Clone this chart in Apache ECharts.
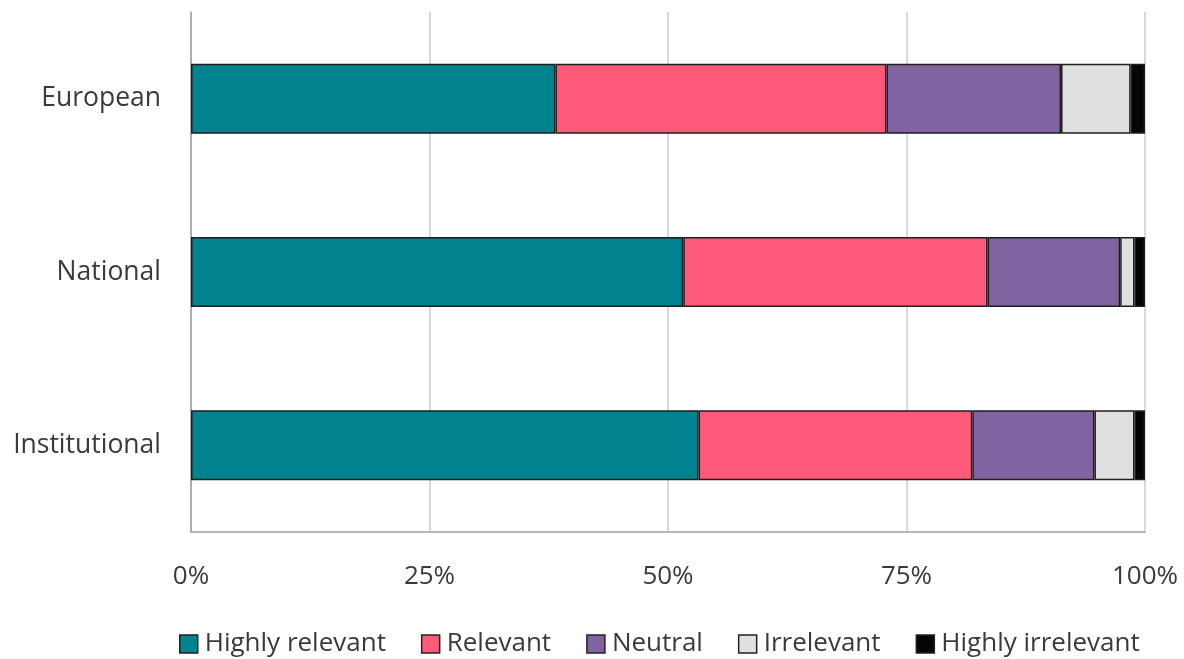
<!DOCTYPE html>
<html><head><meta charset="utf-8">
<script src="https://cdn.jsdelivr.net/npm/echarts@6/dist/echarts.min.js"></script>
<style>html,body{margin:0;padding:0;background:#fff}#c{width:1184px;height:659px}</style>
</head><body><div id="c"></div>
<script>
const categories = ['European', 'National', 'Institutional'];
const seriesNames = ['Highly relevant', 'Relevant', 'Neutral', 'Irrelevant', 'Highly irrelevant'];
const highlyRelevant = [38.2, 51.6, 53.2];
const relevant = [34.7, 31.9, 28.7];
const neutral = [18.3, 13.9, 12.8];
const irrelevant = [7.3, 1.5, 4.2];
const highlyIrrelevant = [1.5, 1.1, 1.1];
const tickLabels = ['0%', '25%', '50%', '75%', '100%'];
const colors = ['#00838F', '#FF5A7A', '#8064A2', '#E0E0E0', '#050505'];
const values = [highlyRelevant, relevant, neutral, irrelevant, highlyIrrelevant];

const chart = echarts.init(document.getElementById('c'));
const font = 'Open Sans';
chart.setOption({
  animation: false,
  color: colors,
  grid: {left: 191, right: 39, top: 12, bottom: 127, containLabel: false},
  legend: {
    bottom: -3, left: 174, itemWidth: 18, itemHeight: 18, itemGap: 35,
    icon: 'rect',
    itemStyle: {borderColor: '#222', borderWidth: 1.5},
    textStyle: {fontFamily: font, fontSize: 26, color: '#3a3a3a', padding: [0,0,0,2]},
    data: seriesNames
  },
  xAxis: {
    type: 'value', min: 0, max: 100, interval: 25,
    axisLine: {show: true, lineStyle: {color: '#a0a0a0', width: 1.5}},
    axisTick: {show: false},
    splitLine: {show: true, lineStyle: {color: '#cccccc', width: 1.5}},
    axisLabel: {fontFamily: font, fontSize: 26, color: '#3a3a3a', margin: 32,
      formatter: v => tickLabels[Math.round(v / 25)]}
  },
  yAxis: {
    type: 'category', data: categories, inverse: true,
    axisLine: {show: true, lineStyle: {color: '#a0a0a0', width: 1.5}},
    axisTick: {show: false},
    axisLabel: {fontFamily: font, fontSize: 26.5, color: '#3a3a3a', margin: 30}
  },
  series: seriesNames.map((n, i) => ({
    name: n, type: 'bar', stack: 'total', barWidth: 70,
    itemStyle: {borderColor: '#1e1e1e', borderWidth: 1.5},
    data: values[i]
  }))
});
</script></body></html>
